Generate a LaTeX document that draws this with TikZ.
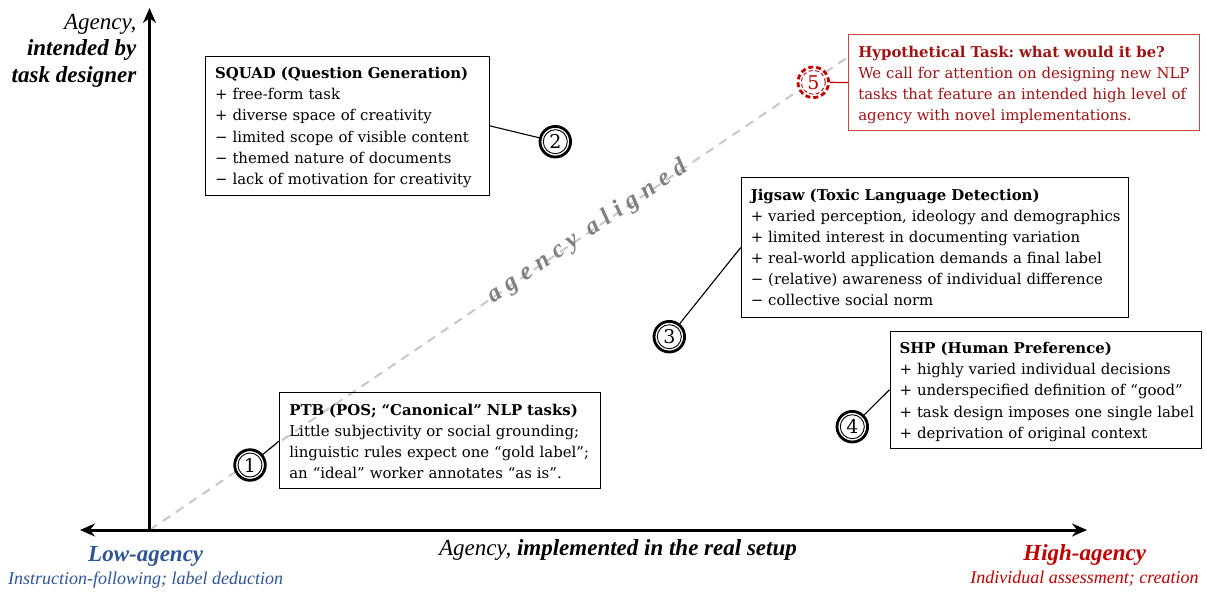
\documentclass[tikz,border=0pt]{standalone}
\usepackage{fontspec}
\setmainfont{DejaVu Serif}
\newfontfamily\tnr{Liberation Serif}
\newfontfamily\tnrsp[LetterSpace=27]{Liberation Serif}
\usetikzlibrary{arrows.meta}
\definecolor{lowblue}{RGB}{47,85,151}
\definecolor{highred}{RGB}{192,0,0}
\definecolor{hyptext}{RGB}{160,20,20}
\definecolor{hypborder}{RGB}{200,70,70}
\definecolor{diagc}{RGB}{200,200,200}
\definecolor{aligngray}{RGB}{128,128,128}
\newcommand\TopR{\rule{0pt}{22.5pt}}
\newcommand\BotR[1]{\rule[-#1pt]{0pt}{0pt}}
\begin{document}
\frenchspacing
\begin{tikzpicture}[x=1pt,y=-1pt,
  >={Stealth[length=15pt,width=13pt,inset=5pt]},
  axisline/.style={line width=3pt},
  diagline/.style={draw=diagc, line width=2pt, dash pattern=on 9pt off 7pt},
  taskbox/.style={draw, line width=1.1pt, anchor=north west, inner xsep=9.5pt, inner ysep=0pt,
    align=left, font=\fontsize{14.9}{21.1}\selectfont},
  numc/.style={circle, draw, line width=2.8pt, minimum size=30.6pt, inner sep=0pt, fill=white,
    font=\fontsize{19}{19}\selectfont},
  innerring/.style={line width=0.9pt},
  conn/.style={line width=1.1pt},
  axlabel/.style={font=\tnr\fontsize{23}{23}\selectfont\itshape, inner sep=0pt},
  sublabel/.style={font=\tnr\fontsize{18}{18}\selectfont\itshape, anchor=base, inner sep=0pt},
  endlabel/.style={font=\tnr\fontsize{23}{23}\selectfont\bfseries\itshape, anchor=base, inner sep=0pt},
]
\fill[white] (0,0) rectangle (1207,592);
\useasboundingbox (0,0) rectangle (1207,592);

% axes
\coordinate (O) at (149.5,530);
\coordinate (yt) at (149.5,8);
\coordinate (xl) at (80,530);
\coordinate (xr) at (1087,530);
\coordinate (dend) at (848,57);

\draw[diagline] (O) -- (dend);
\draw[axisline,->] (O) -- (yt);
\draw[axisline,<->] (xl) -- (xr);

% agency aligned
\node[font=\tnrsp\fontsize{25}{25}\selectfont\bfseries\itshape, text=aligngray, anchor=base,
  rotate=34.1, inner sep=0pt] (aligned) at (591,237) {agency aligned};

% axis labels
\node[axlabel, anchor=base east] (ya1) at (136.5,29) {Agency,};
\node[axlabel, anchor=base east] (ya2) at (136.5,55.5) {\bfseries intended by};
\node[axlabel, anchor=base east] (ya3) at (136.5,82) {\bfseries task designer};
\node[axlabel, anchor=base] (xa) at (618,555) {Agency, \textbf{implemented in the real setup}};

\node[endlabel, text=lowblue] (low) at (145.7,561.7) {Low-agency};
\node[sublabel, text=lowblue] (lowsub) at (145.7,584) {Instruction-following; label deduction};
\node[endlabel, text=highred] (high) at (1084.7,560) {High-agency};
\node[sublabel, text=highred] (highsub) at (1084.5,583.3) {Individual assessment; creation};

% boxes
\node[taskbox, minimum width=284pt, minimum height=139.3pt, text width=265pt] (squad) at (205,55.7)
{\TopR\mbox{\bfseries SQUAD (Question Generation)}\\
\mbox{+ free-form task}\\
\mbox{+ diverse space of creativity}\\
\mbox{− limited scope of visible content}\\
\mbox{− themed nature of documents}\\
\mbox{− lack of motivation for creativity}\BotR{11.3}};

\node[taskbox, minimum width=320.7pt, minimum height=96pt, text width=301.7pt] (ptb) at (279.3,392.3)
{\TopR\mbox{\bfseries PTB (POS; “Canonical” NLP tasks)}\\
\mbox{Little subjectivity or social grounding;}\\
\mbox{linguistic rules expect one “gold label”;}\\
\mbox{an “ideal” worker annotates “as is”.}\BotR{10.2}};

\node[taskbox, minimum width=387pt, minimum height=139.4pt, text width=368pt] (jig) at (740.7,177.3)
{\TopR\mbox{\bfseries Jigsaw (Toxic Language Detection)}\\
\mbox{+ varied perception, ideology and demographics}\\
\mbox{+ limited interest in documenting variation}\\
\mbox{+ real-world application demands a final label}\\
\mbox{− (relative) awareness of individual difference}\\
\mbox{− collective social norm}\BotR{11.4}};

\node[taskbox, minimum width=311.5pt, minimum height=117pt, text width=292.5pt] (shp) at (889.5,330.7)
{\TopR\mbox{\bfseries SHP (Human Preference)}\\
\mbox{+ highly varied individual decisions}\\
\mbox{+ underspecified definition of “good”}\\
\mbox{+ task design imposes one single label}\\
\mbox{+ deprivation of original context}\BotR{10.1}};

\node[taskbox, draw=hypborder, text=hyptext, minimum width=351pt, minimum height=96pt, text width=332pt] (hyp) at (848.3,34)
{\TopR\mbox{\bfseries Hypothetical Task: what would it be?}\\
\mbox{We call for attention on designing new NLP}\\
\mbox{tasks that feature an intended high level of}\\
\mbox{agency with novel implementations.}\BotR{10.2}};

% number circles
\node[numc] (c1) at (250,465) {1};
\node[numc] (c2) at (555.3,141.7) {2};
\node[numc] (c3) at (669.3,336.7) {3};
\node[numc] (c4) at (852.3,426.7) {4};
\node[numc, draw=highred, text=highred, dash pattern=on 5pt off 3pt] (c5) at (813.3,82.3) {5};
\foreach \c in {c1,c2,c3,c4}{\draw[innerring] (\c.center) circle[radius=12pt];}
\draw[innerring, draw=highred, dash pattern=on 4pt off 2.5pt] (c5.center) circle[radius=12pt];

% connectors
\draw[conn] (c1) -- (ptb.west);
\draw[conn] (c2) -- (squad.east);
\draw[conn] (c3) -- (jig.west);
\draw[conn] (c4) -- (shp.west);
\draw[conn, draw=highred, line width=1.4pt] (c5) -- (hyp.west);
\end{tikzpicture}
\end{document}
